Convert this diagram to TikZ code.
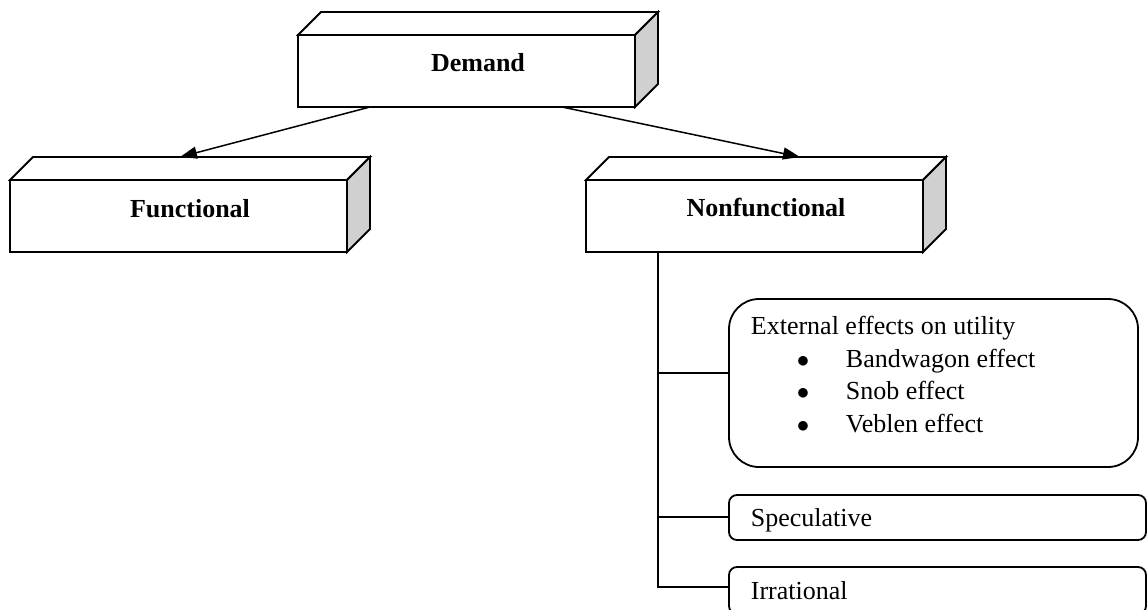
\documentclass[tikz,border=0pt]{standalone}
\usepackage{fontspec}
\setmainfont{Liberation Serif}
\usetikzlibrary{arrows.meta,calc}
\definecolor{sidegray}{RGB}{208,208,208}
\begin{document}
\begin{tikzpicture}[x=1pt,y=-1pt,
  line width=1.8pt,
  front/.style={draw, fill=white, rectangle, minimum width=337pt, minimum height=72pt, inner sep=0pt, outer sep=0pt},
  boldlbl/.style={font=\fontsize{26}{30}\selectfont\bfseries, inner sep=0pt, anchor=base},
  lbl/.style={font=\fontsize{26}{30}\selectfont, inner sep=0pt, anchor=base west},
  bigbox/.style={draw, rectangle, rounded corners=30pt, minimum width=409pt, minimum height=168pt, inner sep=0pt, outer sep=0pt},
  smallbox/.style={draw, rectangle, rounded corners=8pt, minimum width=417pt, inner sep=0pt, outer sep=0pt},
  arr/.style={-{Triangle[length=17pt,width=12pt]}, line width=1.5pt},
  conn/.style={line width=1.8pt}
]
\useasboundingbox (0,0) rectangle (1148,610);
\clip (0,0) rectangle (1148,610);

% 3D boxes
\newcommand{\threed}[1]{%
  \draw[fill=white] (#1.north west) -- ++(23,-23) -- ++(337,0) -- (#1.north east) -- cycle;
  \draw[fill=sidegray] (#1.north east) -- ++(23,-23) -- ++(0,72) -- (#1.south east) -- cycle;
}
\node[front] (dem) at (466.5,71) {};
\threed{dem}
\node[boldlbl] (demt) at (478,71) {Demand};

\node[front] (fun) at (178.5,216) {};
\threed{fun}
\node[boldlbl] (funt) at (190,217) {Functional};

\node[front] (nf) at (754.5,216) {};
\threed{nf}
\node[boldlbl] (nft) at (766,216) {Nonfunctional};

% arrows
\coordinate (dl) at ($(dem.south west)+(72,0)$);
\coordinate (dr) at ($(dem.south west)+(264,0)$);
\coordinate (funtop) at ($(fun.north west)+(170,-23)$);
\coordinate (nftop) at ($(nf.north west)+(214,-23)$);
\draw[arr] (dl) -- (funtop);
\draw[arr] (dr) -- (nftop);

% right-hand boxes
\node[bigbox] (ext) at (933.5,383) {};
\node[smallbox, minimum height=45pt] (spec) at (937.5,517.5) {};
\node[smallbox, minimum height=47pt] (irr) at (937.5,590.5) {};

\node[lbl] (extt) at (750,334) {External effects on utility};
\node[lbl] (bw) at (796,367) {\makebox[49pt][l]{$\bullet$}Bandwagon effect};
\node[lbl] (sn) at (796,399) {\makebox[49pt][l]{$\bullet$}Snob effect};
\node[lbl] (vb) at (796,432) {\makebox[49pt][l]{$\bullet$}Veblen effect};
\node[lbl] (spect) at (750,526) {Speculative};
\node[lbl] (irrt) at (750,599) {Irrational};

% tree connectors
\coordinate (trunk) at ($(nf.south west)+(72,0)$);
\draw[conn] (trunk) |- ($(ext.west)+(0,-10)$);
\draw[conn] (trunk) |- ($(spec.west)+(0,-0.5)$);
\draw[conn] (trunk) |- ($(irr.west)+(0,-3.5)$);
\end{tikzpicture}
\end{document}
